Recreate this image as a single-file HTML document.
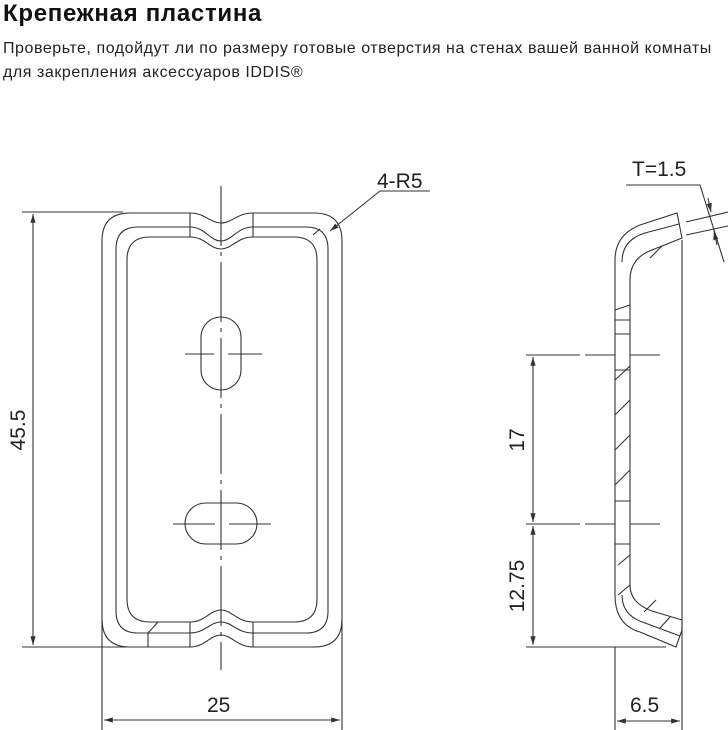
<!DOCTYPE html>
<html><head><meta charset="utf-8"><style>
body{margin:0;background:#fff;width:728px;height:730px;overflow:hidden;font-family:"Liberation Sans",sans-serif;}
.t{position:absolute;left:3px;top:0px;font-size:24px;letter-spacing:0.7px;font-weight:bold;color:#111;}
.s{position:absolute;left:3px;top:37px;font-size:16px;letter-spacing:0.55px;line-height:24px;color:#222;}
svg{position:absolute;left:0;top:0}
</style></head><body>
<div class="t">Крепежная пластина</div>
<div class="s">Проверьте, подойдут ли по размеру готовые отверстия на стенах вашей ванной комнаты<br>для закрепления аксессуаров IDDIS®</div>
<svg width="728" height="730" viewBox="0 0 728 730" fill="none" stroke="#333" stroke-width="1.1">
<defs><marker id="a" viewBox="0 0 10 10" refX="10" refY="5" markerWidth="8" markerHeight="8" orient="auto-start-reverse"><path d="M0,2 L10,5 L0,8z" fill="#333" stroke="none"/></marker></defs>
<path d="M190,213 L130,213 Q102,213 102,241 L102,619 Q102,647 130,647 L190,647 C205,647 210,635 221,635 C232,635 237,647 253,647 L314,647 Q342,647 342,619 L342,241 Q342,213 314,213 L253,213 C237,213 232,223 221,223 C210,223 205,213 190,213Z"/>
<path d="M190,227 L138,227 Q116,227 116,249 L116,611 Q116,633 138,633 L190,633 C205,633 210,622 221,622 C232,622 237,633 253,633 L306,633 Q328,633 328,611 L328,249 Q328,227 306,227 L253,227 C237,227 232,241 221,241 C210,241 205,227 190,227Z"/>
<path d="M190,237 L150,237 Q127,237 127,260 L127,599 Q127,622 150,622 L190,622 C205,622 210,610 221,610 C232,610 237,622 253,622 L294,622 Q317,622 317,599 L317,260 Q317,237 294,237 L253,237 C237,237 232,249 221,249 C210,249 205,237 190,237Z"/>
<path d="M190,213V237M253,213V237M190,622V647M253,622V647M148,633V647M148,633L158,622M313,235L320,229"/>
<rect x="201" y="317" width="40" height="73" rx="20"/>
<rect x="185" y="503" width="72" height="41" rx="20.5"/>
<path d="M221,186V670" stroke-dasharray="60,6,4,6"/>
<path d="M185,354H214M228,354H262M173,524H215M229,524H271"/>
<path d="M22,212H123M22,647H126M102,620V730M342,620V730"/>
<path d="M33,214V645" marker-start="url(#a)" marker-end="url(#a)"/>
<path d="M104,720H340" marker-start="url(#a)" marker-end="url(#a)"/>
<path d="M380,191L330,231" marker-end="url(#a)"/>
<path d="M380,191H430"/>
<path d="M615,300 L615,595 Q615,625 640,632 L676,647 L682,630 L682,620 L652,611 Q630,603 630,585 L630,280 Q630,258 652,250 L682,238 L677,213 L640,225 Q615,235 615,260Z"/>
<path d="M622,262 Q622,240 645,233 L679,224M622,595 Q622,616 645,623 L680,636"/>
<path d="M682,240V730M615,647V730"/>
<path d="M615,380L630,366M615,415L630,400M615,450L630,435M615,485L630,470M618,565L630,555M615,310L630,305M615,320H630M615,334H630M615,370H630M615,501H630M615,544H630M618,595L630,585M650,258L662,246M644,612L656,600M660,628L670,617"/>
<path d="M526,355H580M585,355H615M630,355H660M526,524H580M585,524H615M630,524H660M526,647H666"/>
<path d="M533,357V522" marker-start="url(#a)" marker-end="url(#a)"/>
<path d="M533,526V645" marker-start="url(#a)" marker-end="url(#a)"/>
<path d="M617,721H680" marker-start="url(#a)" marker-end="url(#a)"/>
<path d="M626,185H700L724,262M686,222L728,212M686,235L728,226"/>
<path d="M708,198L711,212" marker-end="url(#a)"/><path d="M717,245L714,231" marker-end="url(#a)"/>
<g fill="#222" stroke="none" font-family="Liberation Sans,sans-serif" font-size="21">
<text x="377" y="188">4-R5</text>
<text x="632" y="176">T=1.5</text>
<text x="207" y="712">25</text>
<text x="630" y="712">6.5</text>
<text transform="translate(25,430) rotate(-90)" text-anchor="middle">45.5</text>
<text transform="translate(524,440) rotate(-90)" text-anchor="middle">17</text>
<text transform="translate(524,586) rotate(-90)" text-anchor="middle">12.75</text>
</g>
</svg>
</body></html>
